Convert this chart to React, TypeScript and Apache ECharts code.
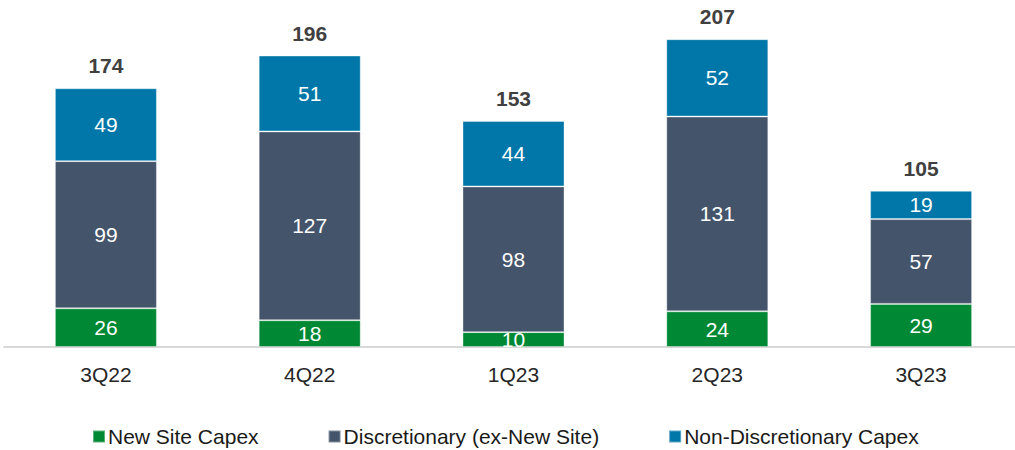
import React, { useEffect, useRef } from "react";
import * as echarts from "echarts";

const categories = ["3Q22", "4Q22", "1Q23", "2Q23", "3Q23"];
const newSite = [26, 18, 10, 24, 29];
const discretionary = [99, 127, 98, 131, 57];
const nonDiscretionary = [49, 51, 44, 52, 19];
const totals = [174, 196, 153, 207, 105];

const FONT = "'Liberation Sans', Arial, sans-serif";

export default function App() {
  const ref = useRef<HTMLDivElement>(null);
  useEffect(() => {
    if (!ref.current) return;
    const chart = echarts.init(ref.current, null, { renderer: "svg" });
    const inner = {
      show: true,
      position: "inside",
      color: "#ffffff",
      fontSize: 21,
      fontFamily: FONT,
    };
    const border = { borderColor: "rgba(255,255,255,0.35)", borderWidth: 1 };
    chart.setOption({
      animation: false,
      backgroundColor: "#ffffff",
      textStyle: { fontFamily: FONT },
      grid: { left: 4, right: 4, top: 5, bottom: 103, containLabel: false },
      legend: {
        top: 426,
        left: 92,
        padding: 0,
        itemWidth: 12,
        itemHeight: 12,
        itemGap: 69,
        icon: "rect",
        textStyle: { fontSize: 21, color: "#1a1a1a", fontFamily: FONT, padding: [0, 0, 0, -2] },
        data: ["New Site Capex", "Discretionary (ex-New Site)", "Non-Discretionary Capex"],
      },
      xAxis: {
        type: "category",
        data: categories,
        axisLine: { lineStyle: { color: "#d9d9d9", width: 2 } },
        axisTick: { show: false },
        axisLabel: { color: "#262626", fontSize: 21, margin: 17, fontFamily: FONT },
      },
      yAxis: {
        type: "value",
        min: 0,
        max: 230,
        show: false,
        splitLine: { show: false },
      },
      series: [
        {
          name: "New Site Capex",
          type: "bar",
          stack: "capex",
          barWidth: 102,
          data: newSite,
          itemStyle: { color: "#008834", ...border },
          label: inner,
        },
        {
          name: "Discretionary (ex-New Site)",
          type: "bar",
          stack: "capex",
          data: discretionary,
          itemStyle: { color: "#44546a", ...border },
          label: inner,
        },
        {
          name: "Non-Discretionary Capex",
          type: "bar",
          stack: "capex",
          data: nonDiscretionary,
          itemStyle: { color: "#0077a8", ...border },
          label: inner,
        },
        {
          name: "Total",
          type: "bar",
          stack: "capex",
          data: categories.map(() => 0),
          itemStyle: { color: "transparent" },
          label: {
            show: true,
            position: "top",
            distance: 12,
            color: "#404040",
            fontSize: 21,
            fontWeight: "bold",
            fontFamily: FONT,
            formatter: (p: any) => String(totals[p.dataIndex]),
          },
        },
      ],
    });
    return () => chart.dispose();
  }, []);
  return (
    <div
      style={{ position: "fixed", left: 0, top: 0, width: 1015, height: 450, overflow: "hidden", background: "#fff" }}
    >
      <div ref={ref} style={{ width: 1027, height: 450 }} />
    </div>
  );
}
